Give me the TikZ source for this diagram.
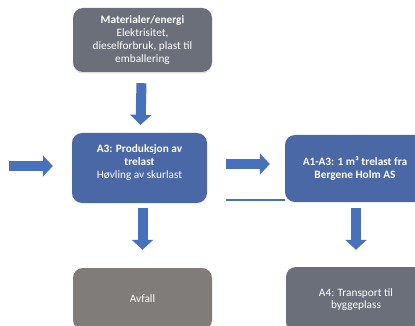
\documentclass[tikz,border=0pt]{standalone}
\usepackage{fontspec}
\setmainfont{Carlito}
\usetikzlibrary{arrows.meta,shadows}

\definecolor{boxblue}{HTML}{4A68A6}
\definecolor{arrowblue}{HTML}{4770BD}
\definecolor{slate}{HTML}{6B6F79}
\definecolor{taupe}{HTML}{807C79}

\tikzset{
  box/.style={rounded corners=10pt, text=white, align=center,
    font=\fontsize{11.3}{12.8}\selectfont, inner sep=2pt},
  blockarrow/.style={draw=arrowblue, line width=10pt,
    -{Triangle[width=21pt,length=10pt]}}
}

\begin{document}
\begin{tikzpicture}[x=1pt,y=-1pt]
   \useasboundingbox (0,0) rectangle (415,326);
   \clip (0,0) rectangle (415,326);

   \node[box, fill=slate, minimum width=139pt, minimum height=64pt,
         drop shadow={opacity=0.25,shadow xshift=0pt,shadow yshift=-1.5pt}] (mat) at (142.5,40)
      {\textbf{Materialer/energi}\\Elektrisitet,\\dieselforbruk, plast til\\emballering};
   \node[box, fill=boxblue, minimum width=135pt, minimum height=70pt] (a3) at (139.5,168)
      {\textbf{A3: Produksjon av}\\\textbf{trelast}\\Høvling av skurlast\\\mbox{}};
   \node[box, fill=boxblue, minimum width=140pt, minimum height=67pt] (a1) at (355,168.5)
      {\textbf{A1-A3: 1 m³ trelast fra}\\\textbf{Bergene Holm AS}};
   \node[box, fill=taupe, minimum width=139pt, minimum height=62pt] (avfall) at (142.5,299)
      {Avfall};
   \node[box, fill=slate, minimum width=140pt, minimum height=65pt] (a4) at (356,299.5)
      {A4: Transport til\\byggeplass};
   \coordinate (in) at (9,166);
   \coordinate (ln) at (226,200);

   \draw[blockarrow, shorten <=11pt, shorten >=8pt] (mat) -- (a3);
   \draw[blockarrow, shorten >=19pt] (in) -- (in -| a3.west);
   \draw[blockarrow, shorten <=19pt, shorten >=15pt] ([yshift=4pt]a3.east) -- ([yshift=4pt]a3.east -| a1.west);
   \draw[blockarrow, shorten <=5pt, shorten >=18pt] (avfall.north |- a3.south) -- (avfall.north);
   \draw[blockarrow, shorten <=6pt, shorten >=17pt] (a4.north |- a1.south) -- (a4.north);
   \draw[arrowblue, line width=1.2pt] (ln) -- (ln -| a1.west);
\end{tikzpicture}
\end{document}
